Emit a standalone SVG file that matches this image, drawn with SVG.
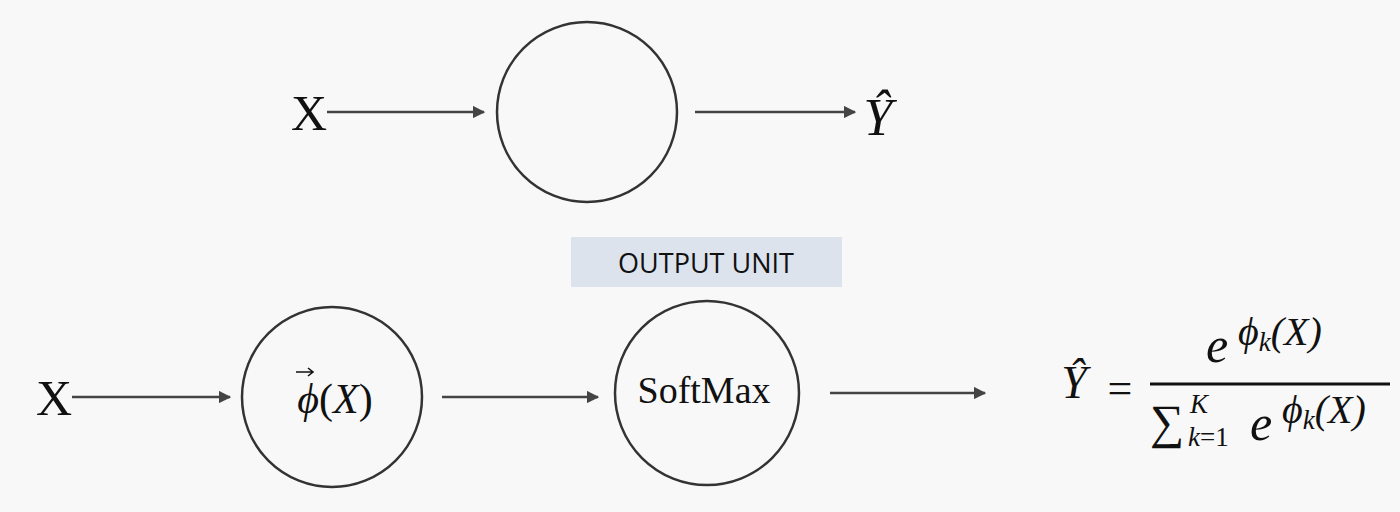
<svg xmlns="http://www.w3.org/2000/svg" width="1400" height="512" viewBox="0 0 1400 512">
<style>
.serif{font-family:"Liberation Serif","DejaVu Serif",serif;fill:#111}
.it{font-style:italic}
.node{fill:none;stroke:#333;stroke-width:2.5}
.conn{stroke:#444;stroke-width:2.5;fill:none}
.lbl{font-family:"Open Sans","Liberation Sans",sans-serif;font-size:27px;fill:#111}
</style>
<defs>
<marker id="ah" viewBox="0 0 10 10" refX="9" refY="5" markerWidth="5" markerHeight="5" orient="auto" markerUnits="strokeWidth">
<path d="M0,0 L10,5 L0,10 z" fill="#444"/>
</marker>
</defs>
<rect width="1400" height="512" fill="#f8f8f8"/>
<g id="x-top"><text class="serif" x="309" y="130" font-size="50" text-anchor="middle">X</text></g>
<g id="unit-top"><circle class="node" cx="587" cy="112" r="90"/></g>
<g id="yhat-top"><text class="serif it" x="878" y="135" font-size="52" text-anchor="middle">Y&#x302;</text></g>
<g id="output-unit"><rect x="571" y="237" width="271" height="50" fill="#dde3ec"/><text class="lbl" x="706" y="273" text-anchor="middle">OUTPUT UNIT</text></g>
<g id="x-bottom"><text class="serif" x="54" y="415" font-size="50" text-anchor="middle">X</text></g>
<g id="phi-node"><circle class="node" cx="332" cy="397" r="90"/>
<text class="serif" x="335" y="413" font-size="42" text-anchor="middle"><tspan class="it">ϕ</tspan>(<tspan class="it">X</tspan>)</text>
<path d="M296 372 L313 372 M308 368 L313 372 L308 376" stroke="#111" stroke-width="1.6" fill="none"/></g>
<g id="softmax-node"><circle class="node" cx="707" cy="393" r="92"/>
<text class="serif" x="704" y="403" font-size="38" text-anchor="middle">SoftMax</text></g>
<g id="formula">
<text class="serif it" x="1074" y="398" font-size="46" text-anchor="middle">Y&#x302;</text>
<text class="serif" x="1120" y="403" font-size="44" text-anchor="middle">=</text>
<line x1="1150" y1="384" x2="1390" y2="384" stroke="#111" stroke-width="3"/>
<text class="serif it" x="1206" y="362" font-size="50">e</text>
<text class="serif it" x="1238" y="345" font-size="40">ϕ<tspan font-size="27" dy="6">k</tspan><tspan dy="-6">(X)</tspan></text>
<text class="serif" x="1150" y="438" font-size="48">∑</text>
<text class="serif it" x="1190" y="413" font-size="27">K</text>
<text class="serif" x="1188" y="446" font-size="27"><tspan class="it">k</tspan>=1</text>
<text class="serif it" x="1250" y="440" font-size="50">e</text>
<text class="serif it" x="1282" y="423" font-size="40">ϕ<tspan font-size="27" dy="6">k</tspan><tspan dy="-6">(X)</tspan></text>
</g>
<g id="connectors">
<line class="conn" x1="327" y1="112" x2="484" y2="112" marker-end="url(#ah)"/>
<line class="conn" x1="695" y1="112" x2="855" y2="112" marker-end="url(#ah)"/>
<line class="conn" x1="72" y1="397" x2="230" y2="397" marker-end="url(#ah)"/>
<line class="conn" x1="442" y1="397" x2="598" y2="397" marker-end="url(#ah)"/>
<line class="conn" x1="830" y1="393" x2="985" y2="393" marker-end="url(#ah)"/>
</g>
</svg>
